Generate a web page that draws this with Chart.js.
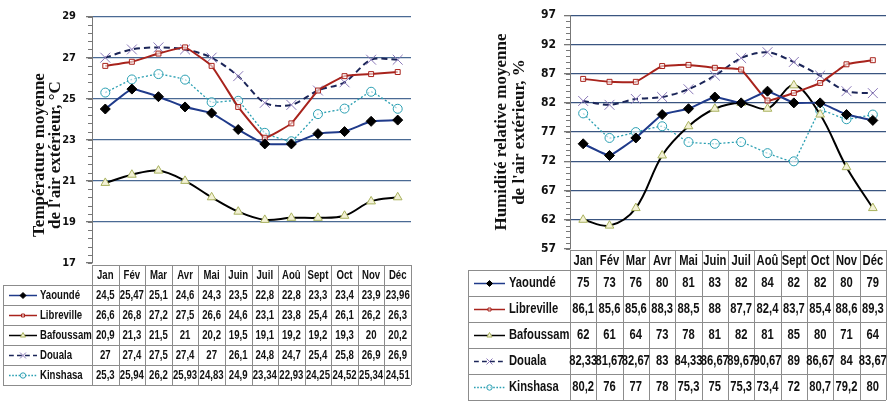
<html>
<head>
<script src="https://cdn.jsdelivr.net/npm/chart.js@4"></script>
<style type="text/css">
    body { margin:0; background:#fff; overflow:hidden; }
    .box { position:absolute; top:0; }
</style>
</head>
<body>
    <div class="box" style="left:0px"><canvas id="tempChart" width="440" height="406"></canvas></div>
    <div class="box" style="left:440px"><canvas id="humChart" width="454" height="406"></canvas></div>
<script>
    // data (the data tables under them)
    var months = ['Jan', 'Fév', 'Mar', 'Avr', 'Mai', 'Juin', 'Juil', 'Aoû', 'Sept', 'Oct', 'Nov', 'Déc'];
    var cities = ['Yaoundé', 'Libreville', 'Bafoussam', 'Douala', 'Kinshasa'];

    var tempYaounde    = [24.5, 25.47, 25.1, 24.6, 24.3, 23.5, 22.8, 22.8, 23.3, 23.4, 23.9, 23.96];
    var tempLibreville = [26.6, 26.8, 27.2, 27.5, 26.6, 24.6, 23.1, 23.8, 25.4, 26.1, 26.2, 26.3];
    var tempBafoussam  = [20.9, 21.3, 21.5, 21, 20.2, 19.5, 19.1, 19.2, 19.2, 19.3, 20, 20.2];
    var tempDouala     = [27, 27.4, 27.5, 27.4, 27, 26.1, 24.8, 24.7, 25.4, 25.8, 26.9, 26.9];
    var tempKinshasa   = [25.3, 25.94, 26.2, 25.93, 24.83, 24.9, 23.34, 22.93, 24.25, 24.52, 25.34, 24.51];

    var humYaounde    = [75, 73, 76, 80, 81, 83, 82, 84, 82, 82, 80, 79];
    var humLibreville = [86.1, 85.6, 85.6, 88.3, 88.5, 88, 87.7, 82.4, 83.7, 85.4, 88.6, 89.3];
    var humBafoussam  = [62, 61, 64, 73, 78, 81, 82, 81, 85, 80, 71, 64];
    var humDouala     = [82.33, 81.67, 82.67, 83, 84.33, 86.67, 89.67, 90.67, 89, 86.67, 84, 83.67];
    var humKinshasa   = [80.2, 76, 77, 78, 75.3, 75, 75.3, 73.4, 72, 80.7, 79.2, 80];

    var tempTicks = {min: 17, max: 29, step: 2};
    var humTicks = {min: 57, max: 97, step: 5};

    var narrow = '"Liberation Sans Narrow", "DejaVu Sans Condensed", "Arial Narrow", sans-serif';
    var sans = '"Liberation Sans", Arial, sans-serif';

    var styles = [
        {borderColor:'#1f3a8a', borderWidth:2, pointStyle:'rectRot', pointRadius:5, pointBackgroundColor:'#000', pointBorderColor:'#000', pointBorderWidth:1, tension:0.1},
        {borderColor:'#a8231c', borderWidth:2, pointStyle:'rect', pointRadius:3.5, pointBackgroundColor:'rgba(255,255,255,0.6)', pointBorderColor:'#a8231c', pointBorderWidth:1, tension:0.1},
        {borderColor:'#000', borderWidth:2, pointStyle:'triangle', pointRadius:5, pointBackgroundColor:'#f3f1d6', pointBorderColor:'#a9b25e', pointBorderWidth:1, tension:0.35},
        {borderColor:'#1b2558', borderWidth:2, borderDash:[6,4], pointStyle:'crossRot', pointRadius:7, pointBackgroundColor:'#8a78b8', pointBorderColor:'#8a78b8', pointBorderWidth:1, tension:0.3},
        {borderColor:'#2a9fb2', borderWidth:1.3, borderDash:[2,2], pointStyle:'circle', pointRadius:4.5, pointBackgroundColor:'rgba(255,255,255,0.6)', pointBorderColor:'#2a9fb2', pointBorderWidth:1, tension:0.1}
    ];

    var fmt = v => String(v).replace('.', ',');

    var makeDatasets = (series) => series.map((vals, i) => Object.assign({label: cities[i], data: vals, fill: false}, styles[i]));

    // Arial Narrow look: squeeze regular bold text horizontally
    var condText = (ctx, t, x, y, sx) => {
        ctx.save();
        ctx.translate(x, y);
        ctx.scale(sx, 1);
        ctx.fillText(t, 0, 0);
        ctx.restore();
    };

    var drawMarker = (ctx, st, x, y, r) => {
        ctx.save();
        ctx.fillStyle = st.pointBackgroundColor;
        ctx.strokeStyle = st.pointBorderColor;
        ctx.lineWidth = st.pointBorderWidth;
        ctx.setLineDash([]);
        if (Chart.helpers && Chart.helpers.drawPoint) {
            Chart.helpers.drawPoint(ctx, {pointStyle: st.pointStyle, radius: r, borderWidth: st.pointBorderWidth, rotation: 0}, x, y);
        } else {
            ctx.beginPath(); ctx.arc(x, y, r, 0, Math.PI*2); ctx.fill(); ctx.stroke();
        }
        ctx.restore();
    };

    // data table under the plot, columns follow the category scale
    var tablePlugin = {
        id: 'dataTable',
        afterDraw(chart, args, o) {
            var ctx = chart.ctx, x = chart.scales.x;
            var n = months.length, colW = (x.right - x.left) / n;
            var top = o.top, hH = o.headerH, rH = o.rowH;
            var bottom = top + hH + rH * cities.length;
            ctx.save();
            ctx.strokeStyle = '#8c8c8c';
            ctx.lineWidth = 1;
            ctx.beginPath();
            ctx.moveTo(x.left, top + 0.5); ctx.lineTo(x.right, top + 0.5);
            for (var i = 0; i <= n; i++) {
                var cx = Math.round(x.left + i * colW) + 0.5;
                ctx.moveTo(cx, top); ctx.lineTo(cx, bottom);
            }
            for (var r = 0; r <= cities.length; r++) {
                var ry = Math.round(top + hH + r * rH) + 0.5;
                ctx.moveTo(o.left, ry); ctx.lineTo(x.right, ry);
            }
            ctx.moveTo(o.left + 0.5, top + hH); ctx.lineTo(o.left + 0.5, bottom);
            ctx.stroke();

            ctx.fillStyle = '#111';
            ctx.textAlign = 'center';
            ctx.textBaseline = 'middle';
            ctx.font = 'bold ' + o.fontSize + 'px ' + sans;
            months.forEach((m, i) => condText(ctx, m, x.getPixelForValue(i), top + hH / 2 + 1, o.squeeze));

            chart.data.datasets.forEach((ds, r) => {
                var cy = top + hH + r * rH + rH / 2 + 0.5;
                ds.data.forEach((v, i) => condText(ctx, fmt(v), x.getPixelForValue(i), cy, o.squeeze));
                // legend key
                var st = styles[r];
                ctx.save();
                ctx.strokeStyle = st.borderColor;
                ctx.lineWidth = Math.min(st.borderWidth, 1.5);
                ctx.setLineDash(st.borderDash ? st.borderDash.map(d => d * 0.8) : []);
                ctx.beginPath(); ctx.moveTo(o.keyX0, cy); ctx.lineTo(o.keyX1, cy); ctx.stroke();
                ctx.restore();
                drawMarker(ctx, st, (o.keyX0 + o.keyX1) / 2, cy, st.pointRadius * 0.6);
                ctx.textAlign = 'left';
                condText(ctx, ds.label, o.nameX, cy, o.squeeze);
                ctx.textAlign = 'center';
            });
            ctx.restore();
        }
    };

    var yTitlePlugin = {
        id: 'yTitle',
        afterDraw(chart, args, o) {
            var ctx = chart.ctx;
            ctx.save();
            ctx.font = 'bold ' + o.size + 'px "Liberation Serif", "Times New Roman", serif';
            ctx.fillStyle = '#111';
            ctx.textAlign = 'center';
            ctx.textBaseline = 'middle';
            o.lines.forEach((t, i) => {
                ctx.save();
                ctx.translate(o.x + i * o.lineH, o.y);
                ctx.rotate(-Math.PI / 2);
                ctx.fillText(t, 0, 0);
                ctx.restore();
            });
            ctx.restore();
        }
    };

    var minorTicks = {
        id: 'minorTicks',
        afterDraw(chart, args, o) {
            var ctx = chart.ctx, y = chart.scales.y;
            ctx.save();
            ctx.strokeStyle = '#777';
            ctx.lineWidth = 1;
            ctx.beginPath();
            for (var v = y.min; v <= y.max + 1e-6; v += o.step) {
                var py = Math.round(y.getPixelForValue(v)) + 0.5;
                ctx.moveTo(y.right - o.len, py); ctx.lineTo(y.right, py);
            }
            ctx.stroke();
            ctx.restore();
        }
    };

    var makeChart = (id, series, ticks, gridColor, cfg) => new Chart(document.getElementById(id).getContext('2d'), {
        type: 'line',
        data: {labels: months, datasets: makeDatasets(series)},
        options: {
            responsive: false,
            animation: false,
            layout: {padding: cfg.padding},
            scales: {
                x: {type: 'category', offset: true, display: false},
                y: {
                    min: ticks.min, max: ticks.max,
                    afterFit: s => { s.width = cfg.axisWidth; },
                    ticks: {stepSize: ticks.step, color: '#111', padding: cfg.tickPad, font: {family: narrow, size: cfg.tickSize, weight: 'bold'}},
                    grid: {color: c => c.tick && c.tick.value === ticks.min ? 'rgba(0,0,0,0)' : gridColor, lineWidth: 1.3, tickLength: 6, tickColor: '#777'},
                    border: {display: true, color: '#777', width: 1}
                }
            },
            plugins: {
                legend: {display: false},
                tooltip: {enabled: false},
                dataTable: cfg.table,
                yTitle: cfg.title,
                minorTicks: {step: cfg.minorStep, len: 4}
            }
        },
        plugins: [minorTicks, tablePlugin, yTitlePlugin]
    });

    makeChart('tempChart', [tempYaounde, tempLibreville, tempBafoussam, tempDouala, tempKinshasa], tempTicks, '#4a6a94', {
        padding: {top: 14, bottom: 143, left: 0, right: 29},
        axisWidth: 92, tickPad: 10, tickSize: 11, minorStep: 0.4,
        table: {top: 265, headerH: 20, rowH: 20, left: 3, keyX0: 9, keyX1: 37, nameX: 40, fontSize: 12, squeeze: 0.8},
        title: {lines: ['Température moyenne', "de l'air extérieur, °C"], x: 40, y: 155, lineH: 16, size: 17}
    });

    makeChart('humChart', [humYaounde, humLibreville, humBafoussam, humDouala, humKinshasa], humTicks, '#3a5580', {
        padding: {top: 9, bottom: 157, left: 0, right: 0},
        axisWidth: 130, tickPad: 8, tickSize: 12, minorStep: 1,
        table: {top: 250, headerH: 20, rowH: 26, left: 28, keyX0: 34, keyX1: 65, nameX: 69, fontSize: 14, squeeze: 0.8},
        title: {lines: ['Humidité relative moyenne', "de l'air extérieur, %"], x: 62, y: 132, lineH: 18, size: 17}
    });
</script>
</body>
</html>
